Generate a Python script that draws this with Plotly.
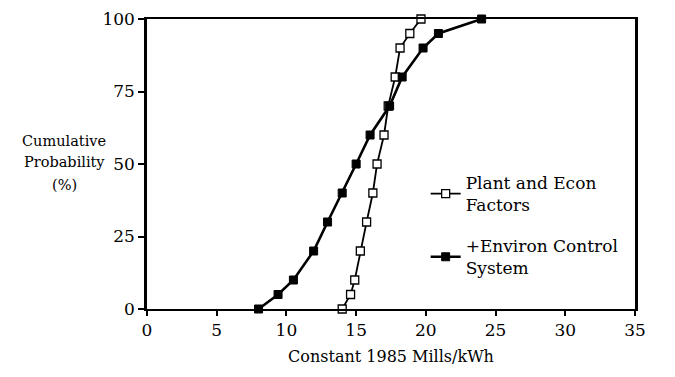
import plotly.graph_objects as go

# Cumulative probability (%) levels
prob = [0, 5, 10, 20, 30, 40, 50, 60, 70, 80, 90, 95, 100]
# Constant 1985 Mills/kWh
plant_econ = [14.0, 14.6, 14.9, 15.3, 15.75, 16.2, 16.5, 17.0, 17.3, 17.8, 18.15, 18.85, 19.65]
environ = [8.0, 9.4, 10.5, 11.95, 12.95, 14.0, 15.0, 16.0, 17.4, 18.3, 19.8, 20.9, 24.0]

x_ticks = [0, 5, 10, 15, 20, 25, 30, 35]
y_ticks = [0, 25, 50, 75, 100]
y_title_lines = ["Cumulative", "Probability", "(%)"]

FONT = "DejaVu Serif"
T, B, H = 9, 68, 377
PH = H - T - B


def ypaper(py):
    return (H - B - py) / PH


fig = go.Figure()
fig.add_trace(go.Scatter(
    x=plant_econ, y=prob, mode="lines+markers",
    name="Plant and Econ<br>Factors", legendgroup="a",
    line=dict(color="black", width=1.8),
    marker=dict(symbol="square", size=8, color="white",
                line=dict(color="black", width=1.3)),
    cliponaxis=False,
))
fig.add_trace(go.Scatter(
    x=environ, y=prob, mode="lines+markers",
    name="+Environ Control<br>System", legendgroup="b",
    line=dict(color="black", width=2.6),
    marker=dict(symbol="square", size=8, color="black",
                line=dict(color="black", width=1)),
    cliponaxis=False,
))

annotations = []
for text, py in zip(y_title_lines, [135, 157, 181]):
    annotations.append(dict(
        text=text, xref="paper", yref="paper", x=-0.170, y=ypaper(py),
        xanchor="center", yanchor="middle", showarrow=False,
        font=dict(family=FONT, size=14.5, color="black")))

fig.update_layout(
    width=675, height=H,
    margin=dict(l=147, r=40, t=T, b=B),
    paper_bgcolor="white", plot_bgcolor="white",
    font=dict(family=FONT, size=15, color="black"),
    showlegend=True,
    legend=dict(x=0.571, y=ypaper(160), xanchor="left", yanchor="top",
                bgcolor="rgba(0,0,0,0)", tracegroupgap=16,
                font=dict(family=FONT, size=17, color="black")),
    xaxis=dict(range=[0, 35], tickvals=x_ticks, ticks="outside", ticklen=5,
               tickwidth=2, tickcolor="black", showline=True, linewidth=2,
               linecolor="black", mirror=True, showgrid=False, zeroline=False,
               tickfont=dict(family=FONT, size=17, color="black"),
               title=dict(text="Constant 1985 Mills/kWh", standoff=11,
                          font=dict(family=FONT, size=16, color="black"))),
    yaxis=dict(range=[0, 100], tickvals=y_ticks, ticks="outside", ticklen=6,
               tickwidth=2, tickcolor="black", showline=True, linewidth=2.5,
               linecolor="black", mirror=True, showgrid=False, zeroline=False,
               tickfont=dict(family=FONT, size=17, color="black")),
    annotations=annotations,
)

fig.write_html("out.html")
